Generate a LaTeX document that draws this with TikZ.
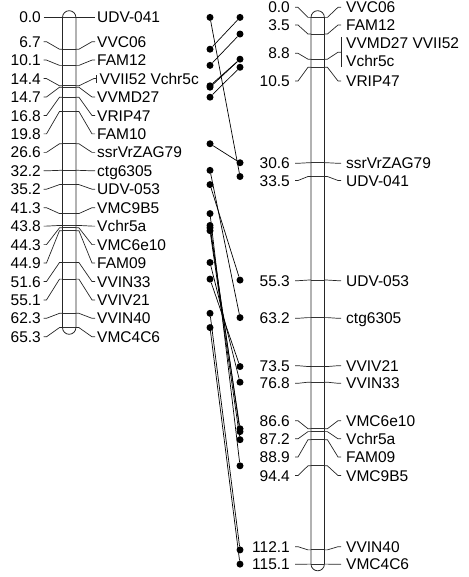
\documentclass[tikz,border=0pt]{standalone}
\usepackage{fontspec}
\setmainfont{Liberation Sans}
\tikzset{
  chrom/.style={draw=black!85, line width=0.8pt, rounded corners=6.7pt, inner sep=0pt, minimum width=13.4pt},
  mline/.style={draw=black!80, line width=0.8pt},
  leader/.style={draw=black!85, line width=0.7pt},
  numlab/.style={anchor=east, inner sep=0pt, text height=11.1pt, text depth=0pt, font=\fontsize{15.5}{18}\selectfont},
  txtlab/.style={anchor=west, inner sep=0pt, text height=11.1pt, text depth=0pt, font=\fontsize{15.5}{18}\selectfont},
  dot/.style={circle, fill=black, inner sep=0pt, minimum size=7pt},
  link/.style={draw=black, line width=0.7pt}
}
% left map marker: id, cM, label y, number, text
\newcommand\LM[5]{%
  \pgfmathsetmacro\my{17.4+4.75*#2}%
  \coordinate (Lw#1) at (62.5,\my);
  \coordinate (Le#1) at (75.9,\my);
  \draw[mline] (Lw#1) -- (Le#1);
  \node[numlab] (Ln#1) at (41,#3) {#4};
  \node[txtlab] (Lt#1) at (97,#3) {#5};
  \draw[leader] ([xshift=2.5pt]Ln#1.east) -- ++(3,0) -- (59.5,\my) -- (Lw#1);
  \draw[leader] (Le#1) -- (78.9,\my) -- ([xshift=-5pt]Lt#1.west) -- ([xshift=-2pt]Lt#1.west);
}
% right map marker
\newcommand\RM[5]{%
  \pgfmathsetmacro\my{17.4+4.75*#2}%
  \coordinate (Rw#1) at (311,\my);
  \coordinate (Re#1) at (324.4,\my);
  \draw[mline] (Rw#1) -- (Re#1);
  \node[numlab] (Rn#1) at (290,#3) {#4};
  \node[txtlab] (Rt#1) at (346,#3) {#5};
  \draw[leader] ([xshift=5pt]Rn#1.east) -- ++(3,0) -- (308,\my) -- (Rw#1);
  \draw[leader] (Re#1) -- (327.4,\my) -- ([xshift=-8pt]Rt#1.west) -- ([xshift=-5pt]Rt#1.west);
}
\newcommand\DOT[3]{%
  \pgfmathsetmacro\dy{17.4+4.75*#3}%
  \node[dot] (#1) at (#2,\dy) {};
}
\begin{document}
\begin{tikzpicture}[x=1pt,y=-1pt]
\useasboundingbox (0,0) rectangle (468,577);
% chromosomes
\node[chrom, draw, minimum height=323.6pt] (chrL) at (69.2,172.5) {};
\node[chrom, draw, minimum height=560.1pt] (chrR) at (317.7,290.75) {};

% left map
\LM{a}{0.0}{17.4}{0.0}{UDV-041}
\LM{b}{6.7}{41.7}{6.7}{VVC06}
\LM{c}{10.1}{60.1}{10.1}{FAM12}
% 14.4 special
\pgfmathsetmacro\my{17.4+4.75*14.4}
\coordinate (Lwd) at (62.5,\my);
\coordinate (Led) at (75.9,\my);
\draw[mline] (Lwd) -- (Led);
\node[numlab] (Lnd) at (41,78.6) {14.4};
\node[txtlab] (Ltd) at (99.5,78.6) {VVII52 Vchr5c};
\coordinate (tick) at (96.8,78.6);
\draw[leader] ([xshift=2.5pt]Lnd.east) -- ++(3,0) -- (59.5,\my) -- (Lwd);
\draw[leader] (Led) -- (78.9,\my) -- ([xshift=-3pt]tick) -- (tick);
\draw[leader] ([yshift=-4pt]tick) -- ([yshift=4pt]tick);
\LM{e}{14.7}{97.0}{14.7}{VVMD27}
\LM{f}{16.8}{115.5}{16.8}{VRIP47}
\LM{x}{19.8}{133.9}{19.8}{FAM10}
\LM{g}{26.6}{152.4}{26.6}{ssrVrZAG79}
\LM{h}{32.2}{170.8}{32.2}{ctg6305}
\LM{i}{35.2}{189.2}{35.2}{UDV-053}
\LM{j}{41.3}{207.7}{41.3}{VMC9B5}
\LM{k}{43.8}{226.1}{43.8}{Vchr5a}
\LM{l}{44.3}{244.6}{44.3}{VMC6e10}
\LM{m}{44.9}{263.0}{44.9}{FAM09}
\LM{n}{51.6}{281.5}{51.6}{VVIN33}
\LM{o}{55.1}{299.9}{55.1}{VVIV21}
\LM{p}{62.3}{318.3}{62.3}{VVIN40}
\LM{q}{65.3}{336.8}{65.3}{VMC4C6}

% right map
\RM{A}{0.0}{7.3}{0.0}{VVC06}
\RM{B}{3.5}{25}{3.5}{FAM12}
% 8.8 special
\pgfmathsetmacro\my{17.4+4.75*8.8}
\coordinate (RwC) at (311,\my);
\coordinate (ReC) at (324.4,\my);
\draw[mline] (RwC) -- (ReC);
\node[numlab] (RnC) at (290,53.3) {8.8};
\node[txtlab] (RtC1) at (346,43.3) {VVMD27 VVII52};
\node[txtlab] (RtC2) at (346,61) {Vchr5c};
\coordinate (brk) at (341,52.2);
\draw[leader] ([xshift=5pt]RnC.east) -- ++(3,0) -- (308,\my) -- (RwC);
\draw[leader] (ReC) -- (327.4,\my) -- ([xshift=-3pt]brk) -- (brk);
\draw[leader] (341,37) -- (341,67);
\RM{D}{10.5}{81}{10.5}{VRIP47}
\RM{E}{30.6}{163.3}{30.6}{ssrVrZAG79}
\RM{F}{33.5}{180.5}{33.5}{UDV-041}
\RM{G}{55.3}{280.7}{55.3}{UDV-053}
\RM{H}{63.2}{318.3}{63.2}{ctg6305}
\RM{I}{73.5}{365.7}{73.5}{VVIV21}
\RM{J}{76.8}{383.3}{76.8}{VVIN33}
\RM{K}{86.6}{420.7}{86.6}{VMC6e10}
\RM{L}{87.2}{438.8}{87.2}{Vchr5a}
\RM{M}{88.9}{457}{88.9}{FAM09}
\RM{N}{94.4}{475.5}{94.4}{VMC9B5}
\RM{O}{112.1}{546.7}{112.1}{VVIN40}
\RM{P}{115.1}{564.3}{115.1}{VMC4C6}

% dots
\DOT{da}{210}{0.0}
\DOT{db}{210}{6.7}
\DOT{dc}{210}{10.1}
\DOT{dd}{210}{14.4}
\DOT{de}{210}{14.7}
\DOT{df}{210}{16.8}
\DOT{dg}{210}{26.6}
\DOT{dh}{210}{32.2}
\DOT{di}{210}{35.2}
\DOT{dj}{210}{41.3}
\DOT{dk}{210}{43.8}
\DOT{dl}{210}{44.3}
\DOT{dm}{210}{44.9}
\DOT{dn}{210}{51.6}
\DOT{do}{210}{55.1}
\DOT{dp}{210}{62.3}
\DOT{dq}{210}{65.3}
\DOT{dA}{240}{0.0}
\DOT{dB}{240}{3.5}
\DOT{dC}{240}{8.8}
\DOT{dD}{240}{10.5}
\DOT{dE}{240}{30.6}
\DOT{dF}{240}{33.5}
\DOT{dG}{240}{55.3}
\DOT{dH}{240}{63.2}
\DOT{dI}{240}{73.5}
\DOT{dJ}{240}{76.8}
\DOT{dK}{240}{86.6}
\DOT{dL}{240}{87.2}
\DOT{dM}{240}{88.9}
\DOT{dN}{240}{94.4}
\DOT{dO}{240}{112.1}
\DOT{dP}{240}{115.1}

% links
\draw[link] (da) -- (dF);
\draw[link] (db) -- (dA);
\draw[link] (dc) -- (dB);
\draw[link] (dd) -- (dC);
\draw[link] (de) -- (dC);
\draw[link] (df) -- (dD);
\draw[link] (dg) -- (dE);
\draw[link] (dh) -- (dH);
\draw[link] (di) -- (dG);
\draw[link] (dj) -- (dN);
\draw[link] (dk) -- (dL);
\draw[link] (dl) -- (dK);
\draw[link] (dm) -- (dM);
\draw[link] (dn) -- (dJ);
\draw[link] (do) -- (dI);
\draw[link] (dp) -- (dO);
\draw[link] (dq) -- (dP);
\end{tikzpicture}
\end{document}
